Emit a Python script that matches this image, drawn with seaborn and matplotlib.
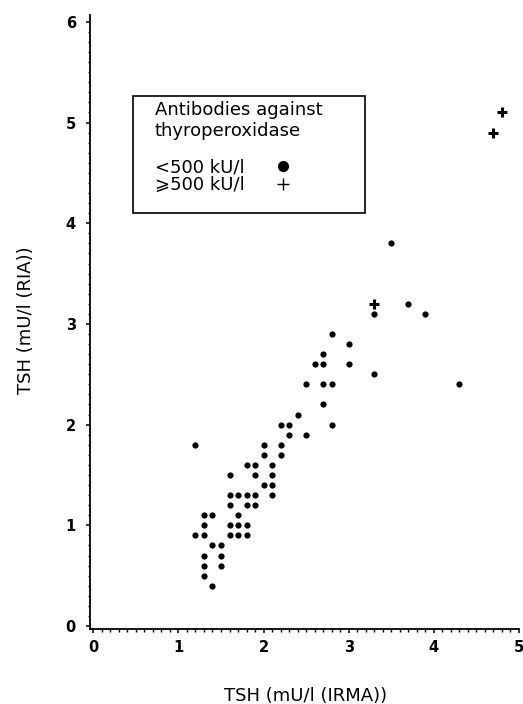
import seaborn as sns
import matplotlib.pyplot as plt
from matplotlib.lines import Line2D
from matplotlib.patches import Rectangle
from matplotlib.ticker import MultipleLocator

# TSH measured by IRMA (x) and by RIA (y)
# antibodies against thyroperoxidase < 500 kU/l
irma_low = [1.2, 2.7, 2.4,
            2.2, 2.3, 2.8,
            2.3, 2.5,
            2.0, 2.2,
            2.0, 2.2,
            1.8, 1.9, 2.1,
            1.6, 1.9, 2.1,
            2.0, 2.1,
            1.6, 1.7, 1.8, 1.9, 2.1,
            1.6, 1.8, 1.9,
            1.3, 1.4, 1.7,
            1.3, 1.6, 1.7, 1.8,
            1.2, 1.3, 1.6, 1.7, 1.8,
            1.4, 1.5,
            1.3, 1.5,
            1.3, 1.5,
            1.3, 1.4,
            3.5, 3.7, 3.3, 3.9, 2.8, 3.0, 2.7,
            2.6, 2.7, 3.0, 3.3,
            2.5, 2.7, 2.8, 4.3]
ria_low = [1.8, 2.2, 2.1,
           2.0, 2.0, 2.0,
           1.9, 1.9,
           1.8, 1.8,
           1.7, 1.7,
           1.6, 1.6, 1.6,
           1.5, 1.5, 1.5,
           1.4, 1.4,
           1.3, 1.3, 1.3, 1.3, 1.3,
           1.2, 1.2, 1.2,
           1.1, 1.1, 1.1,
           1.0, 1.0, 1.0, 1.0,
           0.9, 0.9, 0.9, 0.9, 0.9,
           0.8, 0.8,
           0.7, 0.7,
           0.6, 0.6,
           0.5, 0.4,
           3.8, 3.2, 3.1, 3.1, 2.9, 2.8, 2.7,
           2.6, 2.6, 2.6, 2.5,
           2.4, 2.4, 2.4, 2.4]

# antibodies >= 500 kU/l
irma_high = [3.3, 4.7, 4.8]
ria_high = [3.2, 4.9, 5.1]

legend_title = "Antibodies against\nthyroperoxidase"
legend_labels = ["<500 kU/l", "\u2a7e500 kU/l"]

sns.set_style("ticks")
plt.rcParams["font.family"] = ["DejaVu Sans"]
for key in ["text.color", "axes.labelcolor", "xtick.color", "ytick.color", "axes.edgecolor"]:
    plt.rcParams[key] = "black"

fig, ax = plt.subplots(figsize=(5.23, 7.04), dpi=100)
fig.subplots_adjust(left=0.172, right=0.992, bottom=0.1065, top=0.979)

sns.scatterplot(x=irma_low, y=ria_low, ax=ax, color="black", marker="o",
                s=20, linewidth=0, legend=False)
sns.scatterplot(x=irma_high, y=ria_high, ax=ax, color="black", marker="+",
                s=60, linewidth=2.2, legend=False)

ax.set_xlim(-0.04, 5.0)
ax.set_ylim(-0.03, 6.07)
ax.xaxis.set_major_locator(MultipleLocator(1))
ax.xaxis.set_minor_locator(MultipleLocator(0.1))
ax.yaxis.set_major_locator(MultipleLocator(1))
ax.yaxis.set_minor_locator(MultipleLocator(0.1))
ax.tick_params(which="major", length=3.2, width=1.1)
ax.tick_params(which="minor", length=1.8, width=1.0)
ax.tick_params(axis="x", which="major", pad=4.5, labelsize=10.5)
ax.tick_params(axis="y", which="major", pad=7, labelsize=10.5)
for lab in ax.get_xticklabels() + ax.get_yticklabels():
    lab.set_fontweight("bold")

sns.despine(ax=ax)
for side in ["left", "bottom"]:
    ax.spines[side].set_linewidth(1.3)

ax.set_xlabel("TSH (mU/l (IRMA))", fontsize=13)
ax.set_ylabel("TSH (mU/l (RIA))", fontsize=13)
ax.xaxis.set_label_coords(0.503, -0.094)
ax.yaxis.set_label_coords(-0.128, 0.503)

# legend text without frame, box drawn separately
handles = [Line2D([], [], marker="o", ls="none", color="black", markersize=7),
           Line2D([], [], marker="+", ls="none", color="black", markersize=8,
                  markeredgewidth=1.0)]
leg = ax.legend(handles, legend_labels, title=legend_title, loc="upper left",
                bbox_to_anchor=(0.1515, 0.859), borderaxespad=0, borderpad=0,
                markerfirst=False, fontsize=13, title_fontsize=13,
                alignment="left", frameon=False, handlelength=1.0,
                handletextpad=1.6, labelspacing=0.0)
leg._legend_box.sep = 13
ax.add_patch(Rectangle((0.100, 0.6775), 0.541, 0.1906, transform=ax.transAxes,
                       fill=False, edgecolor="black", linewidth=1.2, clip_on=False))

fig.savefig("out.png", dpi=100)
